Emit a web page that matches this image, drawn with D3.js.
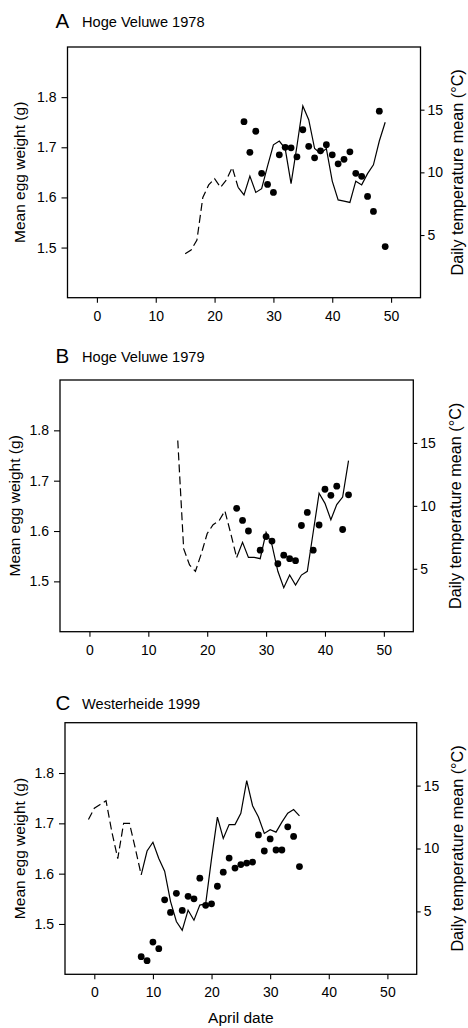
<!DOCTYPE html>
<html><head><meta charset="utf-8">
<script src="https://cdn.jsdelivr.net/npm/d3@7"></script>
<style>
body{margin:0;background:#fff}
svg{display:block}
text{font-family:"Liberation Sans",Arial,Helvetica,sans-serif;fill:#000}
</style>
</head><body>
<script>
// ---- shared ticks ----
const xTicks = [0, 10, 20, 30, 40, 50];
const weightTicks = [1.5, 1.6, 1.7, 1.8];
const tempTicks = [5, 10, 15];

// ---- Panel A: Hoge Veluwe 1978 ----
const eggDatesA = [25,26,27,28,29,30,31,32,33,34,35,36,37,38,39,40,41,42,43,44,45,46,47,48,49];
const eggWeightsA = [1.751,1.690,1.732,1.648,1.626,1.610,1.685,1.700,1.699,1.681,1.735,1.702,1.679,1.693,1.705,1.685,1.667,1.676,1.691,1.648,1.642,1.602,1.572,1.772,1.502];
const tempDatesA = [15,16,17,18,19,20,21,22,23,24,25,26,27,28,29,30,31,32,33,34,35,36,37,38,39,40,41,42,43,44,45,46,47,48,49];
const tempsA = [3.5,3.8,4.6,8.0,9.0,9.5,8.8,9.4,10.4,8.8,8.2,9.7,8.4,8.7,10.5,12.2,12.5,11.9,9.1,12.1,15.3,14.2,11.9,11.5,11.9,9.3,7.8,7.7,7.6,9.3,9.0,9.9,10.6,12.5,14.0];

// ---- Panel B: Hoge Veluwe 1979 ----
const eggDatesB = [25,26,27,29,30,31,32,33,34,35,36,37,38,39,40,41,42,43,44];
const eggWeightsB = [1.645,1.621,1.600,1.562,1.589,1.580,1.535,1.552,1.545,1.541,1.611,1.637,1.562,1.612,1.683,1.671,1.689,1.603,1.672];
const tempDatesB = [15,16,17,18,19,20,21,22,23,24,25,26,27,28,29,30,31,32,33,34,35,36,37,38,39,40,41,42,43,44];
const tempsB = [15.2,6.6,5.3,4.8,6.2,7.8,8.5,8.8,9.6,7.8,5.9,7.1,5.9,5.9,5.8,7.9,6.9,4.8,3.5,4.5,3.7,4.5,4.8,7.9,11.0,10.2,8.9,10.1,10.7,13.6];

// ---- Panel C: Westerheide 1999 ----
const eggDatesC = [8,9,10,11,12,13,14,15,16,17,18,19,20,21,22,23,24,25,26,27,28,29,30,31,32,33,34,35];
const eggWeightsC = [1.435,1.427,1.464,1.451,1.548,1.523,1.561,1.527,1.555,1.550,1.591,1.537,1.540,1.575,1.603,1.631,1.611,1.618,1.621,1.623,1.677,1.645,1.669,1.647,1.647,1.693,1.674,1.614];
const tempDatesC = [-1,0,1,2,3,4,5,6,7,8,9,10,11,12,13,14,15,16,17,18,19,20,21,22,23,24,25,26,27,28,29,30,31,32,33,34,35];
const tempsC = [12.3,13.2,13.5,13.8,11.3,9.2,12.0,12.0,10.0,7.9,9.8,10.5,9.2,8.2,5.8,4.2,3.5,5.1,4.3,5.5,5.6,9.2,12.5,10.8,11.9,11.9,12.8,15.4,13.4,12.5,11.2,11.5,11.3,12.1,12.8,13.1,12.6];

const panels = [
  {letter:"A", name:"Hoge Veluwe 1978", eggDates:eggDatesA, eggWeights:eggWeightsA, tempDates:tempDatesA, temps:tempsA, solidFrom:24,
   box:{l:67.5, r:420.5, t:47, b:297.7}, titleY:26.5, leftLabelX:20, rightLabelX:457},
  {letter:"B", name:"Hoge Veluwe 1979", eggDates:eggDatesB, eggWeights:eggWeightsB, tempDates:tempDatesB, temps:tempsB, solidFrom:25,
   box:{l:60, r:413.3, t:380, b:631.7}, titleY:362, leftLabelX:15, rightLabelX:455},
  {letter:"C", name:"Westerheide 1999", eggDates:eggDatesC, eggWeights:eggWeightsC, tempDates:tempDatesC, temps:tempsC, solidFrom:8,
   box:{l:65, r:416.7, t:722.7, b:974.3}, titleY:709, leftLabelX:20, rightLabelX:457, xLabel:"April date"}
];

const svg = d3.select("body").append("svg").attr("width",468).attr("height",1028);

panels.forEach(p => {
  const g = svg.append("g");
  const {l,r,t,b} = p.box;
  const x = d3.scaleLinear().domain([-5,55]).range([l,r]);
  const yW = d3.scaleLinear().domain([1.4,1.9]).range([b,t]);
  const yT = d3.scaleLinear().domain([0,20]).range([b,t]);

  // title
  g.append("text").attr("x",55.5).attr("y",p.titleY+1).attr("font-size",20.5).text(p.letter);
  g.append("text").attr("x",82).attr("y",p.titleY).attr("font-size",14.6).text(p.name);

  // box
  g.append("rect").attr("x",l).attr("y",t).attr("width",r-l).attr("height",b-t)
    .attr("fill","none").attr("stroke","#000").attr("stroke-width",1.3);

  // axes
  const ax = g.append("g").attr("transform",`translate(0,${b})`)
    .call(d3.axisBottom(x).tickValues(xTicks).tickSize(5).tickPadding(8).tickFormat(d3.format("d")));
  const ay = g.append("g").attr("transform",`translate(${l},0)`)
    .call(d3.axisLeft(yW).tickValues(weightTicks).tickSize(6).tickPadding(5).tickFormat(d3.format(".1f")));
  const ar = g.append("g").attr("transform",`translate(${r},0)`)
    .call(d3.axisRight(yT).tickValues(tempTicks).tickSize(4).tickPadding(3).tickFormat(d3.format("d")));
  [ax,ay,ar].forEach(a => {
    a.select(".domain").remove();
    a.selectAll("line").attr("stroke","#000").attr("stroke-width",1.1);
    a.selectAll("text").attr("font-size",14).attr("font-family",'"Liberation Sans",Arial,sans-serif').attr("fill","#000");
  });

  // temperature line
  const pts = p.tempDates.map((d,i)=>({date:d, t:p.temps[i]}));
  const line = d3.line().x(d=>x(d.date)).y(d=>yT(d.t));
  g.append("path").datum(pts.filter(d=>d.date<=p.solidFrom))
    .attr("d",line).attr("fill","none").attr("stroke","#000").attr("stroke-width",1.2)
    .attr("stroke-dasharray","8,4");
  g.append("path").datum(pts.filter(d=>d.date>=p.solidFrom))
    .attr("d",line).attr("fill","none").attr("stroke","#000").attr("stroke-width",1.2)
    .attr("stroke-linejoin","miter");

  // egg weights
  g.selectAll("circle.egg").data(p.eggDates.map((d,i)=>({date:d, w:p.eggWeights[i]})))
    .join("circle").attr("class","egg")
    .attr("cx",d=>x(d.date)).attr("cy",d=>yW(d.w)).attr("r",3.4).attr("fill","#000");

  // axis titles
  const cy = (t+b)/2;
  g.append("text").attr("transform",`translate(${p.leftLabelX},${cy}) rotate(-90)`)
    .attr("text-anchor","middle").attr("dy","0.35em").attr("font-size",15.5).text("Mean egg weight (g)");
  g.append("text").attr("transform",`translate(${p.rightLabelX},${cy}) rotate(-90)`)
    .attr("text-anchor","middle").attr("dy","0.35em").attr("font-size",16.2).text("Daily temperature mean (°C)");
  if (p.xLabel) {
    g.append("text").attr("x",(l+r)/2).attr("y",1023).attr("text-anchor","middle")
      .attr("font-size",15.5).text(p.xLabel);
  }
});
</script>
</body></html>
